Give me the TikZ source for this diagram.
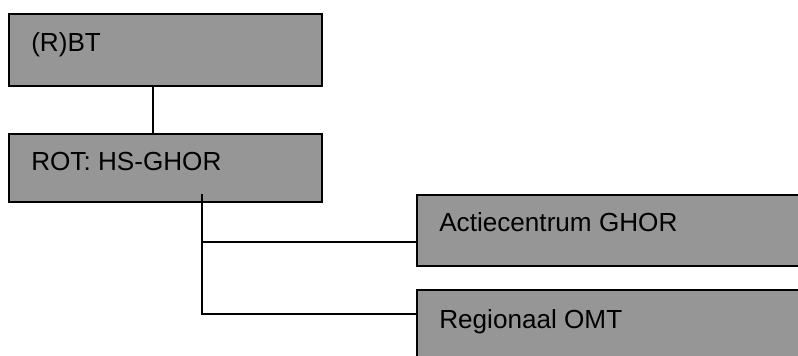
\documentclass[tikz,border=0pt]{standalone}
\usepackage{fontspec}
\setmainfont{Liberation Sans}
\usetikzlibrary{fit}
\definecolor{boxgray}{RGB}{150,150,150}
\begin{document}
\begin{tikzpicture}[x=0.75pt,y=-0.75pt,
  orgbox/.style={draw=black,fill=boxgray,line width=1.1pt,inner sep=0pt,rectangle},
  orgtext/.style={anchor=base west,inner sep=0pt,font=\fontsize{19.6pt}{23pt}\selectfont},
  link/.style={draw=black,line width=1.1pt}]
  \path[use as bounding box,clip] (0,0) rectangle (798,356);
  \fill[white] (0,0) rectangle (798,356);

  % boxes of the chart
  \node[orgbox,fit={(9,14) (322,86)}] (b1) {};
  \node[orgbox,fit={(9,134) (322,202)}] (b2) {};
  \node[orgbox,fit={(417,195) (804,266)}] (b3) {};
  \node[orgbox,fit={(417,290) (804,362)}] (b4) {};

  % captions
  \node[orgtext] (t1) at (31,52) {(R)BT};
  \node[orgtext] (t2) at (31,170) {ROT: HS-GHOR};
  \node[orgtext] (t3) at (439,231) {Actiecentrum GHOR};
  \node[orgtext] (t4) at (439,328) {Regionaal OMT};

  % routing points
  \coordinate (k1) at (153,0);
  \coordinate (k2) at (202,0);
  \coordinate (j1) at (0,242);
  \coordinate (j2) at (0,314);
  \coordinate (s2) at (202,194);

  % connectors
  \draw[link] (b1.south -| k1) -- (b2.north -| k1);
  \draw[link] (s2) |- (b4.west |- j2);
  \draw[link] (k2 |- j1) -- (b3.west |- j1);
\end{tikzpicture}
\end{document}
